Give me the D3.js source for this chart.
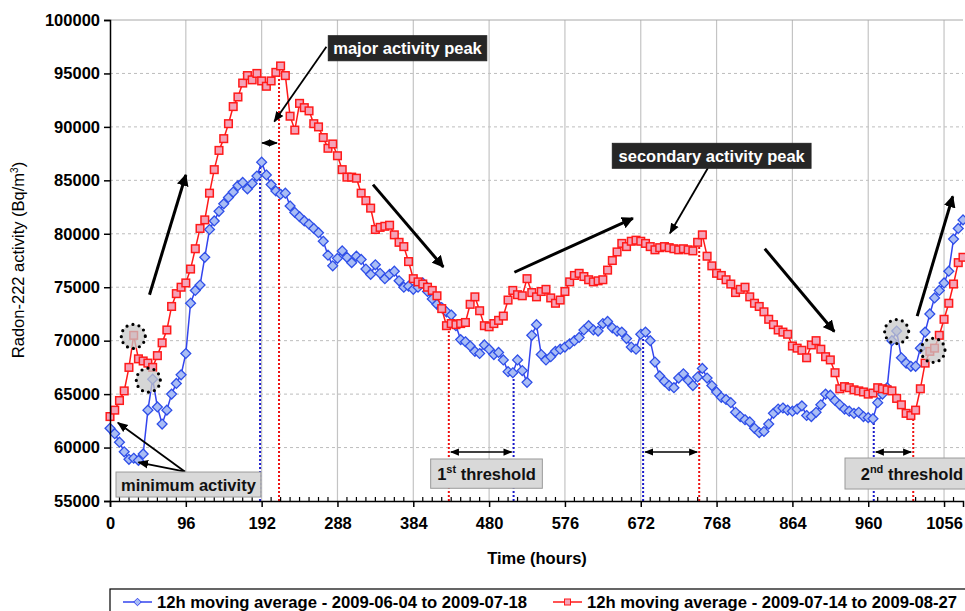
<!DOCTYPE html>
<html>
<head>
<meta charset="utf-8">
<script src="https://cdn.jsdelivr.net/npm/d3@7"></script>
<style>
  body { margin: 0; background: #fff; }
  svg { font-family: "Liberation Sans", Arial, sans-serif; }
</style>
</head>
<body>
<div id="chart"></div>
<script>
// hours sampled every 6 h (0 .. 1080)
const hours = d3.range(0, 1081, 6);

// 12h moving average - 2009-06-04 to 2009-07-18 (Bq/m3)
const blueValues = [
  61800, 61300, 60500, 59600, 58900, 59000, 58800, 59400, 63500, 66400,
  63800, 62200, 63500, 65000, 66000, 66800, 68800, 73500, 74700, 75200,
  77800, 80400, 81200, 82100, 82800, 83400, 83900, 84500, 84800, 84200,
  84700, 85400, 86700, 85500, 84600, 84000, 83700, 83800, 82600, 82000,
  81600, 81200, 80900, 80500, 80100, 79300, 78000, 77000, 77700, 78400,
  77800, 77300, 77900, 77600, 76700, 76200, 77100, 76300, 75800, 76200,
  76500, 75600, 75000, 75100, 74800, 75000, 75400, 74600, 73900, 73400,
  73100, 72700, 72400, 71400, 70100, 69900, 69500, 69000, 68800, 69600,
  69200, 68700, 68900, 68200, 67100, 67000, 68200, 67200, 66100, 70500,
  71500, 68700, 68200, 68500, 69000, 69200, 69400, 69700, 70000, 70300,
  71000, 71400, 71000, 70900, 71600, 71800, 71200, 70900, 70800, 70200,
  69400, 69200, 70600, 70800, 70000, 68000, 66700, 66200, 65800, 65600,
  66500, 66900, 66300, 65800, 66600, 67400, 66500, 65800, 65200, 64700,
  64500, 64200, 63300, 62900, 62600, 62400, 61800, 61400, 61500, 62200,
  63200, 63600, 63700, 63500, 63400, 63600, 63900, 63000, 62900, 63300,
  64000, 65000, 64900, 64400, 64000, 63600, 63400, 63200, 63300, 62900,
  62800, 62700, 64200, 65000, 65600, 70000, 70900, 68400, 67900, 67600,
  67600, 69300, 70800, 72500, 74000, 74700, 75400, 76500, 79500, 80500,
  81300
];

// 12h moving average - 2009-07-14 to 2009-08-27 (Bq/m3)
const redValues = [
  62900, 63500, 64400, 65300, 67500, 70500, 68300, 68100, 67900, 67500,
  68600, 69800, 71000, 73200, 74400, 75000, 75400, 76700, 78600, 80500,
  81300, 83800, 86000, 87800, 88900, 90300, 91900, 92800, 94100, 94800,
  94400, 95000, 94300, 93800, 94300, 95100, 95700, 94800, 91000, 89700,
  92200, 91800, 91500, 90300, 90000, 89000, 88000, 88400, 87300, 86000,
  85300, 85300, 85200, 83800, 83100, 82400, 80400, 80600, 80700, 80800,
  79900, 79200, 78800, 77400, 75800, 75500, 75300, 75000, 74700, 74200,
  73000, 71400, 71600, 71500, 71600, 71700, 73400, 74100, 72800, 71400,
  71300, 71600, 71900, 72300, 73800, 74700, 74300, 74200, 75800, 74500,
  74100, 74600, 74800, 74000, 73500, 73800, 74600, 75500, 76100, 76300,
  76000, 75700, 75500, 75600, 75700, 76600, 77500, 78300, 79100, 78800,
  79300, 79400, 79300, 79100, 78800, 78500, 78700, 78800, 78700, 78600,
  78500, 78600, 78500, 78400, 79200, 79900, 77900, 77000, 76300, 76100,
  75700, 75300, 74500, 74800, 75000, 74100, 73500, 73200, 72700, 72000,
  71500, 71000, 70800, 70600, 69500, 69300, 69100, 68400, 69600, 70000,
  69200, 68500, 68200, 67000, 65500, 65700, 65600, 65400, 65300, 65200,
  65000, 65100, 65600, 65500, 65400, 65300, 64600, 64000, 63200, 63000,
  63500, 65500, 67900, 69000, 69300, 70500, 72000, 73500, 75300, 77300,
  77800
];

const seriesNames = [
  "12h moving average - 2009-06-04 to 2009-07-18",
  "12h moving average - 2009-07-14 to 2009-08-27"
];

const xTicks = d3.range(0, 1081, 96);
const yTicks = d3.range(55000, 100001, 5000);

// annotations, in data units (hours, Bq/m3)
const trendArrows = [
  [50, 74300, 96, 85500],
  [333, 84600, 422, 76900],
  [512, 76400, 662, 81450],
  [829, 78600, 917, 70850],
  [1022, 72300, 1067, 83500]
];
const pointerArrows = [
  [274, 97500, 208, 90500],
  [757, 86150, 709, 80050],
  [95, 57740, 10, 62320],
  [95, 57740, 36, 58620]
];
// [blue hour, blue top, red hour, red top, arrow level]
const thresholdPairs = [
  [190, 86700, 214, 95600, 88500],
  [511, 67000, 429, 71500, 59580],
  [675, 70800, 746, 80000, 59580],
  [967, 62700, 1017, 62900, 59580]
];
const circles = [[29.5, 70400], [48.5, 66300], [996, 70850], [1042, 69100]];

const width = 965, height = 611;
const margin = {top: 20, left: 110, bottom: 110, right: 2};
const iwidth = width - margin.left - margin.right;

const svg = d3.select("#chart").append("svg")
  .attr("width", width).attr("height", height);

const defs = svg.append("defs");
defs.append("marker").attr("id", "head")
  .attr("viewBox", "0 0 10 10").attr("refX", 9).attr("refY", 5)
  .attr("markerWidth", 4).attr("markerHeight", 4).attr("orient", "auto-start-reverse")
  .append("path").attr("d", "M0,0L10,5L0,10z").attr("fill", "#000");
defs.append("marker").attr("id", "headSmall")
  .attr("viewBox", "0 0 10 10").attr("refX", 9).attr("refY", 5)
  .attr("markerWidth", 6).attr("markerHeight", 6).attr("orient", "auto-start-reverse")
  .append("path").attr("d", "M0,1L10,5L0,9z").attr("fill", "#000");

const x = d3.scaleLinear().domain([0, 1080]).range([margin.left, margin.left + iwidth]);
const y = d3.scaleLinear().domain([55000, 100000]).range([501, margin.top]);

// grid
svg.append("g").selectAll("line").data(yTicks.slice(1, -1)).join("line")
  .attr("x1", x(0)).attr("x2", x(1080))
  .attr("y1", d => y(d)).attr("y2", d => y(d))
  .attr("stroke", "#bdbdbd").attr("stroke-dasharray", "3,3");
svg.append("g").selectAll("line").data(xTicks.slice(1)).join("line")
  .attr("x1", d => x(d)).attr("x2", d => x(d))
  .attr("y1", y(100000)).attr("y2", y(55000))
  .attr("stroke", "#c4c4c4").attr("stroke-width", 1.2);
svg.append("line").attr("x1", x(0)).attr("x2", x(1080))
  .attr("y1", y(100000)).attr("y2", y(100000)).attr("stroke", "#a8a8a8");

// threshold dotted lines + double arrows
const th = svg.append("g");
thresholdPairs.forEach(p => {
  th.append("line").attr("x1", x(p[0])).attr("x2", x(p[0]))
    .attr("y1", y(55000)).attr("y2", y(p[1]))
    .attr("stroke", "#1a1acc").attr("stroke-width", 2).attr("stroke-dasharray", "2,2");
  th.append("line").attr("x1", x(p[2])).attr("x2", x(p[2]))
    .attr("y1", y(55000)).attr("y2", y(p[3]))
    .attr("stroke", "#ee1111").attr("stroke-width", 2).attr("stroke-dasharray", "2,2");
  const a = Math.min(p[0], p[2]), b = Math.max(p[0], p[2]);
  th.append("line").attr("x1", x(a) + 2).attr("x2", x(b) - 2)
    .attr("y1", y(p[4])).attr("y2", y(p[4]))
    .attr("stroke", "#000").attr("stroke-width", 1.5)
    .attr("marker-start", "url(#headSmall)").attr("marker-end", "url(#headSmall)");
});

// series
const blueData = hours.map((h, i) => ({h, v: blueValues[i]}));
const redData = hours.map((h, i) => ({h, v: redValues[i]}));
const line = d3.line().x(d => x(d.h)).y(d => y(d.v));

svg.append("path").datum(blueData).attr("d", line)
  .attr("fill", "none").attr("stroke", "#3344ee").attr("stroke-width", 1.5);
svg.append("g").selectAll("path").data(blueData).join("path")
  .attr("d", d3.symbol(d3.symbolDiamond2, 62)())
  .attr("transform", d => `translate(${x(d.h)},${y(d.v)})`)
  .attr("fill", "#a9bdf5").attr("stroke", "#2f4fe8").attr("stroke-width", 1.3);

svg.append("path").datum(redData).attr("d", line)
  .attr("fill", "none").attr("stroke", "#ff1a1a").attr("stroke-width", 1.5);
svg.append("g").selectAll("rect").data(redData).join("rect")
  .attr("x", d => x(d.h) - 3.8).attr("y", d => y(d.v) - 3.8)
  .attr("width", 7.6).attr("height", 7.6)
  .attr("fill", "#f4a3b8").attr("stroke", "#ff1a1a").attr("stroke-width", 1.5);

// dotted circles
svg.append("g").selectAll("circle").data(circles).join("circle")
  .attr("cx", d => x(d[0])).attr("cy", d => y(d[1])).attr("r", 12)
  .attr("fill", "rgba(200,200,200,0.75)").attr("stroke", "#000")
  .attr("stroke-width", 3.2).attr("stroke-linecap", "round").attr("stroke-dasharray", "0,6.2");

// axes
const yAxis = svg.append("g").attr("transform", `translate(${x(0)},0)`)
  .call(d3.axisLeft(y).tickValues(yTicks).tickSize(6).tickPadding(4).tickFormat(d3.format("d")));
const xAxis = svg.append("g").attr("transform", `translate(0,${y(55000)})`)
  .call(d3.axisBottom(x).tickValues(xTicks).tickSize(6).tickPadding(10).tickFormat(d3.format("d")));
[yAxis, xAxis].forEach(a => {
  a.select(".domain").attr("stroke", "#000").attr("stroke-width", 1.5);
  a.selectAll(".tick line").attr("stroke", "#000").attr("stroke-width", 1.5);
  a.selectAll("text").attr("font-size", 16.5).attr("font-weight", "bold")
    .attr("font-family", "Liberation Sans, Arial, sans-serif").attr("fill", "#000");
});
svg.append("g").selectAll("line").data(d3.range(12, 1080, 12).filter(d => d % 96)).join("line")
  .attr("x1", d => x(d)).attr("x2", d => x(d))
  .attr("y1", y(55000) - 4).attr("y2", y(55000) + 1)
  .attr("stroke", "#000").attr("stroke-width", 1.2);

svg.append("text").attr("x", 537).attr("y", 564).attr("text-anchor", "middle")
  .attr("font-size", 16.5).attr("font-weight", "bold").text("Time (hours)");
const yt = svg.append("text").attr("transform", "translate(24,260) rotate(-90)")
  .attr("text-anchor", "middle").attr("font-size", 16.5);
yt.append("tspan").text("Radon-222 activity (Bq/m");
yt.append("tspan").attr("font-size", 10).attr("dy", -6).text("3");
yt.append("tspan").attr("dy", 6).text(")");

// arrows
svg.append("g").selectAll("line").data(trendArrows).join("line")
  .attr("x1", d => x(d[0])).attr("y1", d => y(d[1]))
  .attr("x2", d => x(d[2])).attr("y2", d => y(d[3]))
  .attr("stroke", "#000").attr("stroke-width", 3).attr("marker-end", "url(#head)");
svg.append("g").selectAll("line").data(pointerArrows).join("line")
  .attr("x1", d => x(d[0])).attr("y1", d => y(d[1]))
  .attr("x2", d => x(d[2])).attr("y2", d => y(d[3]))
  .attr("stroke", "#000").attr("stroke-width", 1.8).attr("marker-end", "url(#headSmall)");

// labels
function label(h0, h1, v0, v1, dark, parts) {
  const g = svg.append("g");
  g.append("rect").attr("x", x(h0)).attr("y", y(v0))
    .attr("width", x(h1) - x(h0)).attr("height", y(v1) - y(v0))
    .attr("fill", dark ? "#262626" : "#d9d9d9")
    .attr("stroke", dark ? "#262626" : "#9a9a9a").attr("stroke-width", 1);
  const t = g.append("text").attr("x", (x(h0) + x(h1)) / 2).attr("y", (y(v0) + y(v1)) / 2 + 6)
    .attr("text-anchor", "middle").attr("font-size", 16.5).attr("font-weight", "bold")
    .attr("fill", dark ? "#fff" : "#111");
  parts.forEach(p => {
    const s = t.append("tspan").text(p[0]);
    if (p[1] === "sup") s.attr("font-size", 11).attr("dy", -7);
    if (p[1] === "down") s.attr("dy", 7);
  });
}
label(7.6, 191, 57710, 55370, false, [["minimum activity"]]);
label(406, 547.4, 58930, 56190, false, [["1"], ["st", "sup"], [" threshold", "down"]]);
label(930.6, 1100, 59020, 56120, false, [["2"], ["nd", "sup"], [" threshold", "down"]]);
label(276.4, 477, 98530, 96190, true, [["major activity peak"]]);
label(636, 887.6, 88460, 86130, true, [["secondary activity peak"]]);

// legend
const lg = svg.append("g");
lg.append("rect").attr("x", 110).attr("y", 589).attr("width", 870).attr("height", 40)
  .attr("fill", "#fff").attr("stroke", "#000").attr("stroke-width", 1.2);
const legendItems = [
  {name: seriesNames[0], x0: 123, color: "#3344ee", kind: "diamond"},
  {name: seriesNames[1], x0: 553, color: "#ff1a1a", kind: "square"}
];
legendItems.forEach(it => {
  lg.append("line").attr("x1", it.x0).attr("x2", it.x0 + 29).attr("y1", 602).attr("y2", 602)
    .attr("stroke", it.color).attr("stroke-width", 1.5);
  if (it.kind === "diamond") {
    lg.append("path").attr("d", d3.symbol(d3.symbolDiamond2, 36)())
      .attr("transform", `translate(${it.x0 + 14.5},602)`)
      .attr("fill", "#a9bdf5").attr("stroke", it.color);
  } else {
    lg.append("rect").attr("x", it.x0 + 11.5).attr("y", 599).attr("width", 6).attr("height", 6)
      .attr("fill", "#f4a3b8").attr("stroke", it.color);
  }
  lg.append("text").attr("x", it.x0 + 34).attr("y", 608)
    .attr("font-size", 16).attr("font-weight", "bold")
    .attr("textLength", 370).attr("lengthAdjust", "spacingAndGlyphs").text(it.name);
});
</script>
</body>
</html>
